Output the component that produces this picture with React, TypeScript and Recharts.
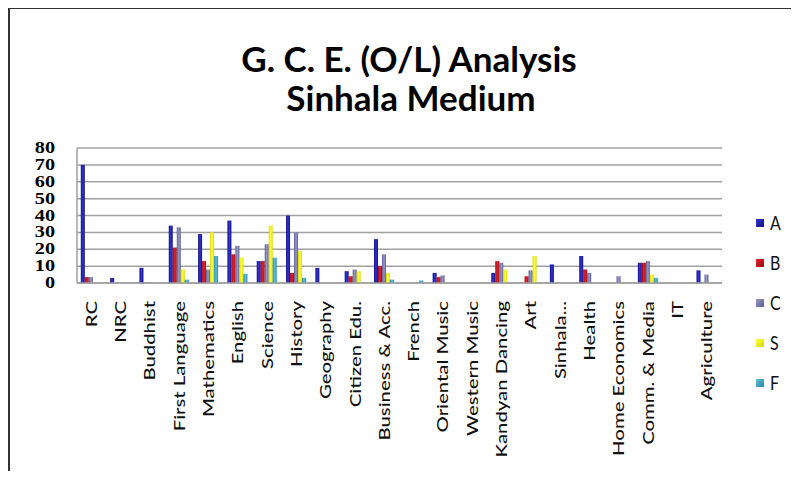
import { BarChart, Bar, XAxis, YAxis, CartesianGrid } from 'recharts';

// Subjects along the x axis
const categories = [
  'RC', 'NRC', 'Buddhist', 'First Language', 'Mathematics', 'English', 'Science',
  'History', 'Geography', 'Citizen Edu.', 'Business & Acc.', 'French', 'Oriental Music',
  'Western Music', 'Kandyan Dancing', 'Art', 'Sinhala...', 'Health', 'Home Economics',
  'Comm. & Media', 'IT', 'Agriculture',
];

// Grade counts
const gradeA = [70, 3, 9, 34, 29, 37, 13, 40, 9, 7, 26, 0, 6, 0, 6, 0, 11, 16, 0, 12, 0, 7.5];
const gradeB = [3.5, 0, 0, 21, 13, 17, 13, 6, 0, 4, 10, 0, 3.5, 0, 13, 4, 0, 8, 0, 12, 0, 0];
const gradeC = [3.5, 0, 0.5, 33, 8, 22, 23, 30, 0, 8, 17, 0, 4.5, 0, 12, 7.5, 0, 6, 4, 13, 0, 5];
const gradeS = [0, 0, 0, 8, 30, 15, 34, 19, 0, 7, 6, 0, 0, 0, 8, 16, 0, 0, 0, 5, 0, 0];
const gradeF = [0, 0, 0, 2, 16, 5.5, 15, 3, 0, 0, 2, 1.5, 0, 0, 0, 0, 0, 0, 0, 3, 0, 0];

const yTicks = [0, 10, 20, 30, 40, 50, 60, 70, 80];

const SERIES = [
  { key: 'A', values: gradeA, dark: '#10107a', light: '#3434d8' },
  { key: 'B', values: gradeB, dark: '#9a0a14', light: '#e8222c' },
  { key: 'C', values: gradeC, dark: '#5c5c8e', light: '#9a9ac8' },
  { key: 'S', values: gradeS, dark: '#d8d800', light: '#ffff40' },
  { key: 'F', values: gradeF, dark: '#2a86a2', light: '#5cc4e0' },
];

const data = categories.map((name, i) => {
  const row: Record<string, string | number> = { name };
  SERIES.forEach((s) => {
    row[s.key] = s.values[i];
  });
  return row;
});

function CategoryTick({ x, y, payload }: any) {
  return (
    <g transform={`translate(${x + 5},${y + 18}) rotate(-90)`}>
      <text
        textAnchor="end"
        transform="scale(1.27,1)"
        fontFamily="Lato, sans-serif"
        fontWeight={500}
        fontSize={16}
        fill="#111"
      >
        {payload.value}
      </text>
    </g>
  );
}

function ValueTick({ x, y, payload }: any) {
  return (
    <g transform={`translate(${x},${y + 5}) scale(1.35,1.1)`}>
      <text
        textAnchor="end"
        fontFamily="'Liberation Serif', serif"
        fontWeight="bold"
        fontSize={15}
        fill="#000"
      >
        {payload.value}
      </text>
    </g>
  );
}

export default function App() {
  return (
    <div style={{ position: 'relative', width: 799, height: 479, margin: -8, background: '#fff' }}>
      <div
        style={{
          position: 'absolute',
          left: 8,
          top: 7,
          width: 791,
          height: 472,
          borderTop: '2px solid #333',
          borderLeft: '2px solid #333',
        }}
      />
      <BarChart
        width={799}
        height={479}
        data={data}
        margin={{ top: 148, right: 77, bottom: 166, left: 0 }}
        barCategoryGap="13%"
        barGap={0}
      >
        <defs>
          {SERIES.map((s) => (
            <linearGradient key={s.key} id={`grad-${s.key}`} x1="0" y1="0" x2="1" y2="0">
              <stop offset="0%" stopColor={s.dark} />
              <stop offset="50%" stopColor={s.light} />
              <stop offset="100%" stopColor={s.dark} />
            </linearGradient>
          ))}
        </defs>
        <CartesianGrid vertical={false} stroke="#a0a0a0" strokeWidth={1.5} />
        <XAxis
          dataKey="name"
          interval={0}
          tickLine={false}
          tickSize={0}
          tickMargin={0}
          height={30}
          axisLine={{ stroke: '#a0a0a0', strokeWidth: 1.5 }}
          tick={<CategoryTick />}
        />
        <YAxis
          domain={[0, 80]}
          ticks={yTicks}
          interval={0}
          width={77}
          tickLine={false}
          tickSize={0}
          tickMargin={22}
          axisLine={{ stroke: '#a0a0a0', strokeWidth: 1.5 }}
          tick={<ValueTick />}
        />
        {SERIES.map((s) => (
          <Bar
            key={s.key}
            dataKey={s.key}
            name={s.key}
            fill={`url(#grad-${s.key})`}
            stroke="none"
            isAnimationActive={false}
          />
        ))}
      </BarChart>
      <svg
        width={799}
        height={479}
        style={{ position: 'absolute', left: 0, top: 0, pointerEvents: 'none' }}
      >
        <text
          x={409}
          y={72}
          textAnchor="middle"
          fontFamily="Lato, sans-serif"
          fontWeight="bold"
          fontSize={35}
          fill="#000"
        >
          G. C. E. (O/L) Analysis
        </text>
        <text
          x={411}
          y={111}
          textAnchor="middle"
          fontFamily="Lato, sans-serif"
          fontWeight="bold"
          fontSize={35}
          fill="#000"
        >
          Sinhala Medium
        </text>
        {SERIES.map((s, i) => (
          <g key={s.key} transform={`translate(756,${223 + i * 40})`}>
            <rect x={0} y={-4} width={8} height={8} fill={`url(#legend-${s.key})`} />
            <linearGradient id={`legend-${s.key}`} x1="0" y1="0" x2="1" y2="1">
              <stop offset="0%" stopColor={s.light} />
              <stop offset="100%" stopColor={s.dark} />
            </linearGradient>
            <text
              x={14}
              y={6}
              transform="scale(1,1.2)"
              fontFamily="Lato, sans-serif"
              fontSize={16}
              fill="#111"
            >
              {s.key}
            </text>
          </g>
        ))}
      </svg>
    </div>
  );
}
